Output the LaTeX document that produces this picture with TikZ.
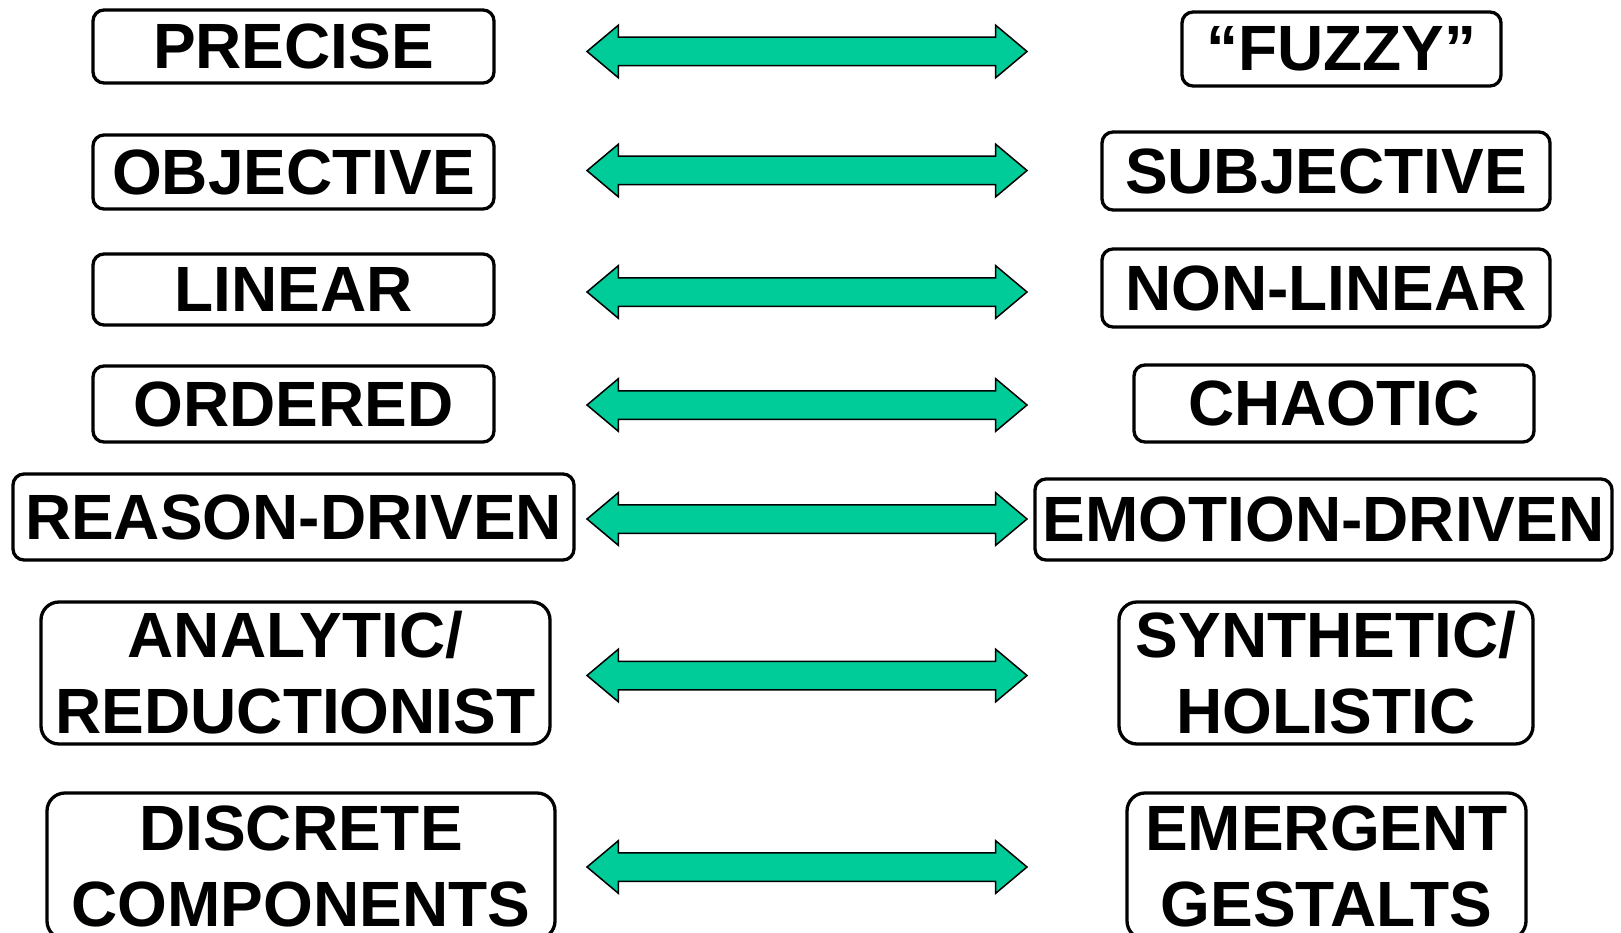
\documentclass[tikz,border=0pt]{standalone}
\usepackage{fontspec}
\setmainfont{Liberation Sans}
\usetikzlibrary{shapes.arrows}
\definecolor{arrowgreen}{RGB}{0,204,153}

\begin{document}
\begin{tikzpicture}[x=1pt,y=-1pt,
    box/.style={draw, line width=3.3pt, rounded corners=11pt, inner sep=0pt,
      align=center, font=\fontsize{64}{76}\selectfont\bfseries},
    tallbox/.style={box, rounded corners=18pt},
    dblarrow/.style={double arrow, draw, line width=1.5pt, fill=arrowgreen,
      inner xsep=0pt, inner ysep=13.5pt, minimum width=0pt, minimum height=440pt,
      double arrow head extend=12pt, double arrow tip angle=80}]
    \useasboundingbox (0,0) rectangle (1621,933);

    % left column
    \node[box, minimum width=401pt, minimum height=73pt] (l1) at (293.5,46.5) {PRECISE};
    \node[box, minimum width=401pt, minimum height=74pt] (l2) at (293.5,172) {OBJECTIVE};
    \node[box, minimum width=401pt, minimum height=71pt] (l3) at (293.5,289.5) {LINEAR};
    \node[box, minimum width=401pt, minimum height=76pt] (l4) at (293.5,404) {ORDERED};
    \node[box, minimum width=561pt, minimum height=86pt] (l5) at (293.5,517) {REASON-DRIVEN};
    \node[tallbox, minimum width=509pt, minimum height=142pt] (l6) at (295.5,673) {ANALYTIC/\\REDUCTIONIST};
    \node[tallbox, minimum width=508pt, minimum height=146pt] (l7) at (301,866) {DISCRETE\\COMPONENTS};

    % right column
    \node[box, minimum width=319pt, minimum height=74pt] (r1) at (1341.5,49) {“FUZZY”};
    \node[box, minimum width=448pt, minimum height=78pt] (r2) at (1326,171) {SUBJECTIVE};
    \node[box, minimum width=448pt, minimum height=78pt] (r3) at (1326,288) {NON-LINEAR};
    \node[box, minimum width=400pt, minimum height=77pt] (r4) at (1334,403.5) {CHAOTIC};
    \node[box, minimum width=577pt, minimum height=81pt] (r5) at (1323.5,519.5) {EMOTION-DRIVEN};
    \node[tallbox, minimum width=414pt, minimum height=142pt] (r6) at (1326,673) {SYNTHETIC/\\HOLISTIC};
    \node[tallbox, minimum width=399pt, minimum height=146pt] (r7) at (1326.5,866) {EMERGENT\\GESTALTS};

    % arrows between the pairs
    \foreach \i/\y in {1/51.5, 2/170.5, 3/292, 4/405, 5/519, 6/675.5, 7/867} {
      \node[dblarrow] (a\i) at (807,\y) {};
    }
\end{tikzpicture}
\end{document}
